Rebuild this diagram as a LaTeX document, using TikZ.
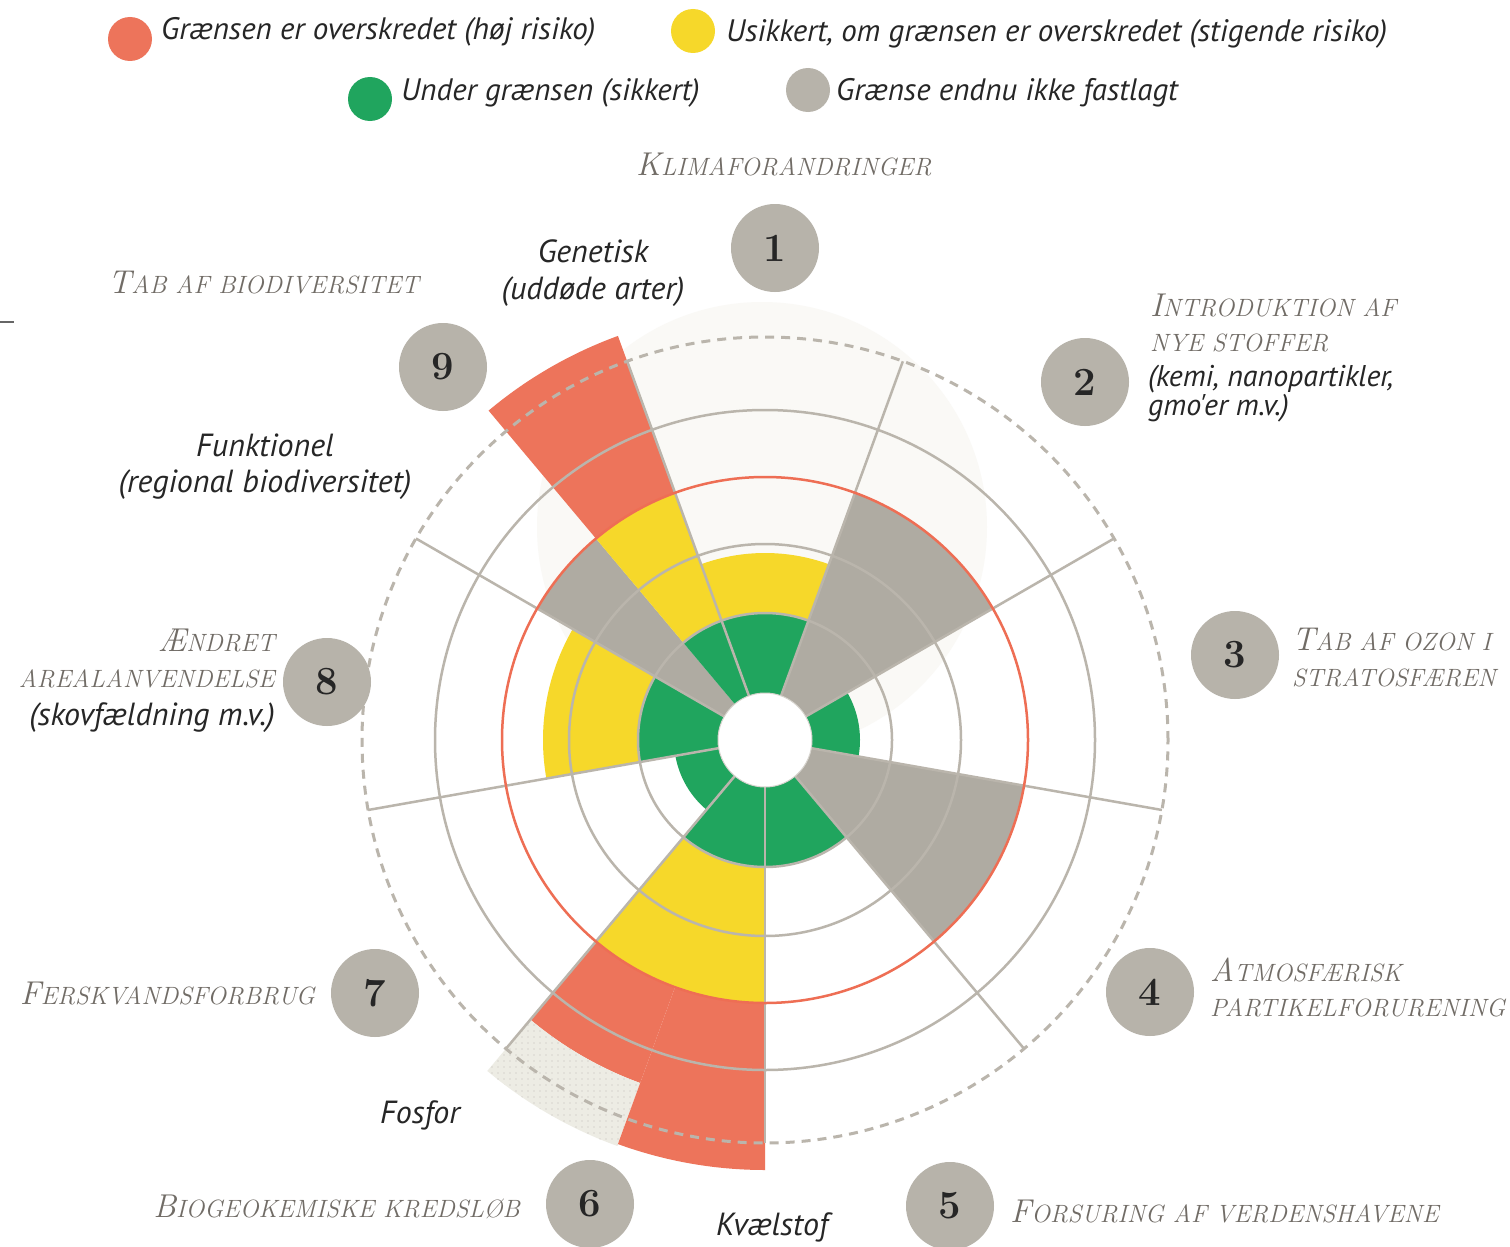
\documentclass[tikz,border=0pt]{standalone}
\usepackage{fontspec}
\usepackage{graphicx}
\usetikzlibrary{patterns.meta}
\newfontfamily\ptsans{PT Sans}
\definecolor{pbred}{HTML}{ED745B}
\definecolor{pbyellow}{HTML}{F6D82A}
\definecolor{pbgreen}{HTML}{20A55E}
\definecolor{pbgray}{HTML}{AFABA2}
\definecolor{pbbadge}{HTML}{B7B3AA}
\definecolor{pbline}{HTML}{BAB5AC}
\definecolor{pbbeige}{HTML}{EDECE4}
\definecolor{pbcat}{HTML}{716C66}
\definecolor{pbtext}{HTML}{262626}
\definecolor{pbwm}{HTML}{FAF9F6}
\definecolor{pbcircle}{HTML}{EE6E54}
\newcommand{\pbwedge}[5]{\fill[#1] (#2:#4) arc[start angle=#2,end angle=#3,radius=#4] -- (#3:#5) arc[start angle=#3,end angle=#2,radius=#5] -- cycle;}
\newcommand{\smc}[2]{{\fontsize{33}{36}\selectfont #1}{\fontsize{25}{28}\selectfont #2}}
\newcommand{\onum}[1]{{\fontsize{40}{42}\selectfont\bfseries #1}}
\begin{document}
\begin{tikzpicture}[x=1pt,y=-1pt,
  badge/.style={circle,fill=pbbadge,minimum size=88pt,inner sep=0pt,text=pbtext},
  legdot/.style={circle,minimum size=44pt,inner sep=0pt},
  leg/.style={font=\ptsans\itshape\fontsize{31}{34}\selectfont,text=pbtext,inner sep=0pt,anchor=base west},
  sub/.style={font=\ptsans\itshape\fontsize{32}{34}\selectfont,text=pbtext,inner sep=0pt},
  subs/.style={font=\ptsans\itshape\fontsize{30}{32}\selectfont,text=pbtext,inner sep=0pt},
  cat/.style={font=\itshape,text=pbcat,inner sep=0pt},
  grid/.style={draw=pbline,line width=2.5pt}]
\useasboundingbox[fill=white] (0,0) rectangle (1510,1247);
% faint watermark disc
\fill[pbwm] (762,527) circle (225);
\draw[black!60,line width=1.2pt] (0,322) -- (14,322);
\begin{scope}[shift={(765,740)},yscale=-1]
 % sector 1 climate
 \pbwedge{pbgreen}{70}{110}{47}{127}
 \pbwedge{pbyellow}{70}{110}{127}{187}
 % sector 2 novel entities
 \pbwedge{pbgray}{30}{70}{47}{263}
 % sector 3 ozone
 \pbwedge{pbgreen}{-10}{30}{47}{95}
 % sector 4 aerosols
 \pbwedge{pbgray}{-50}{-10}{47}{263}
 % sector 5 ocean acidification
 \pbwedge{pbgreen}{-90}{-50}{47}{127}
 % sector 6 biogeochemical: P and N
 \pbwedge{pbgreen}{230}{270}{47}{127}
 \pbwedge{pbyellow}{230}{270}{127}{263}
 \pbwedge{pbred}{230}{250}{263}{365}
 \pbwedge{pbbeige}{230}{250}{365}{432}
 \pbwedge{pattern={Dots[distance=6pt,radius=0.7pt]},pattern color=pbgray!80}{230}{250}{365}{432}
 \pbwedge{pbred}{250}{270}{263}{430}
 % sector 7 freshwater
 \pbwedge{pbgreen}{190}{230}{47}{91}
 % sector 8 land system
 \pbwedge{pbgreen}{150}{190}{47}{127}
 \pbwedge{pbyellow}{150}{190}{127}{222}
 % sector 9 biosphere: functional, genetic
 \pbwedge{pbgray}{130}{150}{47}{263}
 \pbwedge{pbgreen}{110}{130}{47}{127}
 \pbwedge{pbyellow}{110}{130}{127}{263}
 \pbwedge{pbred}{110}{130}{263}{430}
 % grid
 \draw[grid] (0,0) circle (127);
 \draw[grid] (0,0) circle (196);
 \draw[grid] (0,0) circle (330);
 \foreach \a in {30,70,...,350} \draw[grid] (\a:47) -- (\a:403);
 \draw[pbcircle,line width=2.5pt] (0,0) circle (263);
 \draw[pbline,line width=3pt,dash pattern=on 9pt off 7pt] (0,0) circle (403);
 \fill[white] (0,0) circle (47);
 \draw[pbline!60,line width=1pt] (0,0) circle (47);
\end{scope}
% legend
\node[legdot,fill=pbred] (dr) at (130,39) {};
\node[leg] (lr) at (161,40) {Grænsen er overskredet (høj risiko)};
\node[legdot,fill=pbyellow] (dy) at (693,31) {};
\node[leg] (ly) at (726,42) {Usikkert, om grænsen er overskredet (stigende risiko)};
\node[legdot,fill=pbgreen] (dg) at (370,99) {};
\node[leg] (lg) at (401,100) {Under grænsen (sikkert)};
\node[legdot,fill=pbbadge] (dq) at (808,90) {};
\node[leg] (lq) at (836,100) {Grænse endnu ikke fastlagt};
% badges
\node[badge] (n1) at (775,248) {\onum{1}};
\node[badge] (n2) at (1085,382) {\onum{2}};
\node[badge] (n3) at (1235,655) {\onum{3}};
\node[badge] (n4) at (1150,992) {\onum{4}};
\node[badge] (n5) at (950,1206) {\onum{5}};
\node[badge] (n6) at (590,1204) {\onum{6}};
\node[badge] (n7) at (375,993) {\onum{7}};
\node[badge] (n8) at (327,682) {\onum{8}};
\node[badge] (n9) at (443,367) {\onum{9}};
% category labels
\node[cat,anchor=base west] (c1) at (636,175) {\smc{K}{LIMAFORANDRINGER}};
\node[cat,anchor=base west] (c9) at (108,293) {\smc{T}{AB AF BIODIVERSITET}};
\node[cat,anchor=base west] (c2a) at (1150,316) {\smc{I}{NTRODUKTION AF}};
\node[cat,anchor=base west] (c2b) at (1150,351) {\smc{}{NYE STOFFER}};
\node[cat,anchor=base west] (c3a) at (1292,650) {\smc{T}{AB AF OZON I}};
\node[cat,anchor=base west] (c3b) at (1292,686) {\smc{}{STRATOSFÆREN}};
\node[cat,anchor=base west] (c4a) at (1210,981) {\smc{A}{TMOSFÆRISK}};
\node[cat,anchor=base west] (c4b) at (1210,1016) {\smc{}{PARTIKELFORURENING}};
\node[cat,anchor=base west] (c5) at (1010,1222) {\smc{F}{ORSURING AF VERDENSHAVENE}};
\node[cat,anchor=base east] (c6) at (520,1217) {\smc{B}{IOGEOKEMISKE KREDSLØB}};
\node[cat,anchor=base east] (c7) at (315,1004) {\smc{F}{ERSKVANDSFORBRUG}};
\node[cat,anchor=base east] (c8a) at (275,651) {\smc{Æ}{NDRET}};
\node[cat,anchor=base east] (c8b) at (275,687) {\smc{}{AREALANVENDELSE}};
% sub labels
\node[subs,anchor=base west] (s2a) at (1148,386) {(kemi, nanopartikler,};
\node[subs,anchor=base west] (s2b) at (1148,415) {gmo'er m.v.)};
\node[sub,anchor=base east] (s8) at (275,725) {(skovfældning m.v.)};
\node[sub,anchor=base] (s9a) at (593,262) {Genetisk};
\node[sub,anchor=base] (s9b) at (593,299) {(uddøde arter)};
\node[sub,anchor=base] (s9c) at (265,456) {Funktionel};
\node[sub,anchor=base] (s9d) at (265,492) {(regional biodiversitet)};
\node[sub,anchor=base] (s6p) at (420,1123) {Fosfor};
\node[sub,anchor=base] (s6n) at (772,1235) {Kvælstof};
\end{tikzpicture}
\end{document}
